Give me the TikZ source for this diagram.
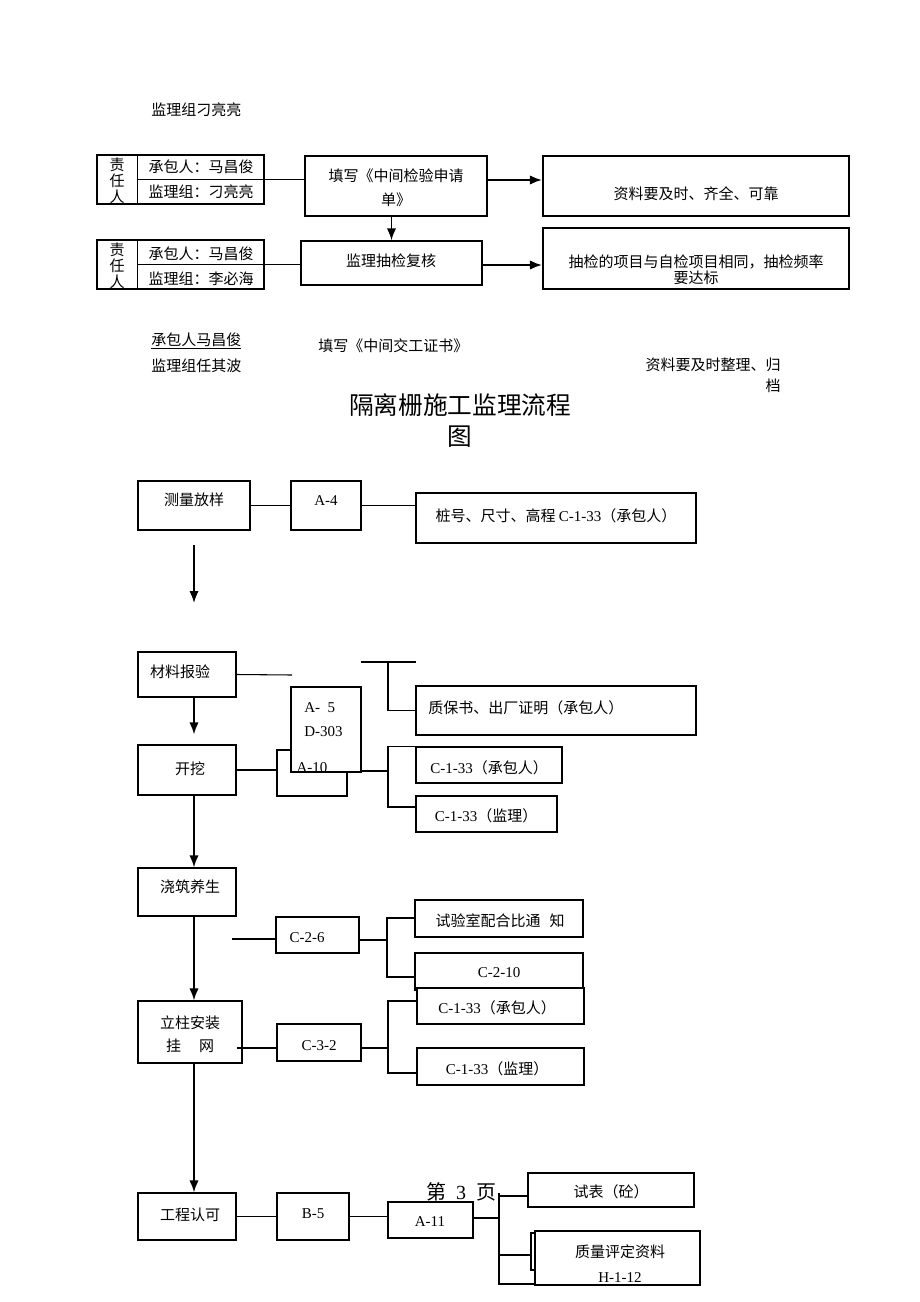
\documentclass[tikz,border=0pt]{standalone}
\usepackage{fontspec}
\setmainfont{Noto Sans CJK SC}
\newfontfamily\lat{Liberation Serif}
\usetikzlibrary{arrows.meta}
\newlength{\pxu}
\setlength{\pxu}{0.75pt}
% box between the corners (#3,#4) and (#5,#6)
\newcommand{\pbox}[6][]{
  \node[box,#1,minimum width={(#5-#3)*\pxu},minimum height={(#6-#4)*\pxu}]
    (#2) at ({(#3+#5)/2},{(#4+#6)/2}) {};
}
\begin{document}
\begin{tikzpicture}[x=0.75pt,y=-0.75pt,
  box/.style={draw,line width=0.9pt,fill=white,inner sep=0pt},
  heavy/.style={line width=1.6pt},
  txt/.style={inner sep=0pt,font=\fontsize{11.25}{13.5}\selectfont},
  link/.style={line width=0.8pt},
  arr/.style={line width=1.3pt,-{Latex[length=9pt,width=7pt]}}]
\useasboundingbox (0,0) rectangle (920,1302);

% header
\node[txt,anchor=west] (hdr) at (151,110) {监理组刁亮亮};

% first step
\pbox{grpa}{97}{155}{264}{204}
\draw[link] ([xshift=30.75pt]grpa.north west) -- ([xshift=30.75pt]grpa.south west);
\draw[link] ([xshift=30.75pt]grpa.west) -- (grpa.east);
\node[txt,align=center,font=\fontsize{11.25}{12}\selectfont] (resa) at (117,181) {责\\任\\人};
\node[txt] (ctra) at (201,167) {承包人：马昌俊};
\node[txt] (supa) at (201,192) {监理组：刁亮亮};
\pbox[heavy]{fillin}{305}{156}{487}{216}
\node[txt,align=center,font=\fontsize{11.25}{18}\selectfont] (fillt) at (396,188) {填写《中间检验申请\\单》};
\pbox[heavy]{reqa}{543}{156}{849}{216}
\node[txt] (reqat) at (696,194) {资料要及时、齐全、可靠};

% second step
\pbox{grpb}{97}{240}{264}{289}
\draw[link] ([xshift=30.75pt]grpb.north west) -- ([xshift=30.75pt]grpb.south west);
\node[txt,align=center,font=\fontsize{11.25}{12}\selectfont] (resb) at (117,266) {责\\任\\人};
\node[txt] (ctrb) at (201,254) {承包人：马昌俊};
\node[txt] (supb) at (201,279) {监理组：李必海};
\pbox{check}{301}{241}{482}{285}
\node[txt] (checkt) at (391,261) {监理抽检复核};
\pbox[heavy]{reqb}{543}{228}{849}{289}
\node[txt,align=center,font=\fontsize{11.25}{12}\selectfont] (reqbt) at (696,270) {抽检的项目与自检项目相同，抽检频率\\要达标};

\draw[link] (grpa.east) -- (grpa.east -| fillin.west);
\draw[link] ([xshift=30.75pt]grpb.west) -- (grpb.west -| check.west);
\draw[arr] (check.north |- fillin.south) -- (check.north);
\draw[arr] ([yshift=4.5pt]fillin.east) -- ([yshift=4.5pt]fillin.east -| reqa.west);
\draw[arr] ([yshift=-1.5pt]check.east) -- ([yshift=-1.5pt]check.east -| reqb.west);

% completion
\node[txt,anchor=west] (ctrc) at (151,341) {\underline{承包人马昌俊}};
\node[txt,anchor=west] (supc) at (151,366) {监理组任其波};
\node[txt,anchor=west] (cert) at (318,346) {填写《中间交工证书》};
\node[txt,anchor=east] (archa) at (781,365) {资料要及时整理、归};
\node[txt,anchor=east] (archb) at (781,386) {档};

% title
\node[txt,font=\fontsize{18.5}{22}\selectfont] (titlea) at (460,405) {隔离栅施工监理流程};
\node[txt,font=\fontsize{18.5}{22}\selectfont] (titleb) at (460,437) {图};

% survey
\pbox{survey}{138}{481}{250}{530}
\node[txt] (surveyt) at (194,500) {测量放样};
\pbox{afour}{291}{481}{361}{530}
\node[txt] (afourt) at (326,501) {\lat A-4};
\pbox[heavy]{stake}{416}{493}{696}{543}
\node[txt] (staket) at (556,516) {桩号、尺寸、高程 {\lat C-1-33}（承包人）};
\draw[link] (survey.east) -- (afour.west);
\draw[link] (afour.east) -- (afour.east -| stake.west);
\coordinate (sa) at (194,545);
\coordinate (sb) at (194,603);
\draw[arr] (sa) -- (sb);

% materials
\pbox{mat}{138}{652}{236}{697}
\node[txt] (matt) at (180,672) {材料报验};
\coordinate (mend) at (292,675);
\draw[link] (mat.east) -- (mend);
\coordinate (qa) at (361,662);
\coordinate (qb) at (416,662);
\coordinate (qj) at (388,662);
\draw[line width=1.2pt] (qa) -- (qb);
\pbox[heavy]{qual}{416}{686}{696}{735}
\draw[link] (qj) |- (qual.west);
\node[txt,anchor=west] (qualt) at (428,708) {质保书、出厂证明（承包人）};

% excavation
\pbox{aten}{277}{750}{347}{796}
\pbox{dig}{138}{745}{236}{795}
\draw[link] (dig.east) -- (dig.east -| aten.west);
\pbox{afive}{291}{687}{361}{772}
\node[txt,anchor=west] (afivet) at (304,708) {\lat A-\ \ 5};
\node[txt,anchor=west] (dthree) at (304,732) {\lat D-303};
\node[txt] (atent) at (312,768) {\lat A-10};
\node[txt] (digt) at (190,769) {开挖};
\pbox{digc}{416}{747}{562}{783}
\pbox{digs}{416}{796}{557}{832}
\node[txt] (digct) at (489,768) {{\lat C-1-33}（承包人）};
\node[txt] (digst) at (486,816) {{\lat C-1-33}（监理）};
\coordinate (dj) at (388,771);
\coordinate (dk) at (388,807);
\draw[link] (afive.east |- dj) -- (dj);
\draw[link] (digc.north west) -| (dk) -- (dk -| digs.west);

% pouring
\pbox{pour}{138}{868}{236}{916}
\node[txt] (pourt) at (190,887) {浇筑养生};
\pbox{ctwo}{276}{917}{359}{953}
\node[txt] (ctwot) at (307,938) {\lat C-2-6};
\coordinate (pa) at (232,939);
\draw[link] (pa) -- (pa -| ctwo.west);
\pbox{trial}{415}{900}{583}{937}
\node[txt] (trialt) at (500,921) {试验室配合比通\hspace{0.6em}知};
\pbox{cten}{415}{953}{583}{990}
\node[txt] (ctent) at (499,973) {\lat C-2-10};
\coordinate (pj) at (387,940);
\coordinate (pk) at (387,918);
\coordinate (pl) at (387,977);
\draw[link] (ctwo.east |- pj) -- (pj);
\draw[link] (pk -| trial.west) -- (pk) -- (pl) -- (pl -| cten.west);

% posts
\pbox{post}{138}{1001}{242}{1063}
\node[txt,align=center,font=\fontsize{11.25}{17.25}\selectfont] (postt) at (190,1034) {立柱安装\\挂\hspace{1.2em}网};
\pbox{cthree}{277}{1024}{361}{1061}
\node[txt] (cthreet) at (319,1046) {\lat C-3-2};
\pbox[heavy]{cpa}{417}{988}{584}{1024}
\pbox[heavy]{cpb}{417}{1048}{584}{1085}
\node[txt] (cpat) at (497,1008) {{\lat C-1-33}（承包人）};
\node[txt] (cpbt) at (497,1069) {{\lat C-1-33}（监理）};
\coordinate (pe) at (237,1048);
\draw[heavy] (pe) -- (pe -| cthree.west);
\coordinate (cj) at (388,1048);
\coordinate (ck) at (388,1001);
\coordinate (cl) at (388,1073);
\draw[heavy] (cthree.east |- cj) -- (cj);
\draw[link] (ck -| cpa.west) -- (ck) -- (cl) -- (cl -| cpb.west);

% acceptance
\pbox{eng}{138}{1193}{236}{1240}
\node[txt] (engt) at (190,1215) {工程认可};
\pbox{bfive}{277}{1193}{349}{1240}
\node[txt] (bfivet) at (313,1214) {\lat B-5};
\pbox{aeleven}{388}{1202}{473}{1238}
\node[txt] (aelevent) at (430,1222) {\lat A-11};
\draw[link] (eng.east) -- (bfive.west);
\draw[link] (bfive.east) -- (bfive.east -| aeleven.west);
\coordinate (ej) at (499,1218);
\coordinate (et) at (499,1193);
\coordinate (eb) at (499,1285);
\coordinate (eu) at (499,1196);
\coordinate (ev) at (499,1255);
\coordinate (ew) at (499,1284);
\draw[link] (aeleven.east |- ej) -- (ej);
\draw[link] (et) -- (eb);
\pbox{test}{528}{1173}{694}{1207}
\node[txt] (testt) at (611,1192) {试表（砼）};
\pbox{qedge}{531}{1233}{545}{1270}
\pbox{qdoc}{535}{1231}{700}{1285}
\node[txt] (qdoct) at (620,1252) {质量评定资料};
\node[txt] (qdocn) at (620,1278) {\lat H-1-12};
\draw[link] (eu) -- (eu -| test.west);
\draw[link] (ev) -- (ev -| qedge.west);
\draw[link] (ew) -- (ew -| qdoc.west);
\node[txt,font=\fontsize{15}{18}\selectfont] (page) at (461,1192) {第\hspace{0.5em}{\lat 3}\hspace{0.5em}页};

% main flow
\draw[arr] (mat.south -| sa) -- ([yshift=7.5pt]dig.north -| sa);
\draw[arr] (dig.south -| sa) -- (pour.north -| sa);
\draw[arr] (pour.south -| sa) -- (post.north -| sa);
\draw[arr] (post.south -| sa) -- (eng.north -| sa);
\end{tikzpicture}
\end{document}
